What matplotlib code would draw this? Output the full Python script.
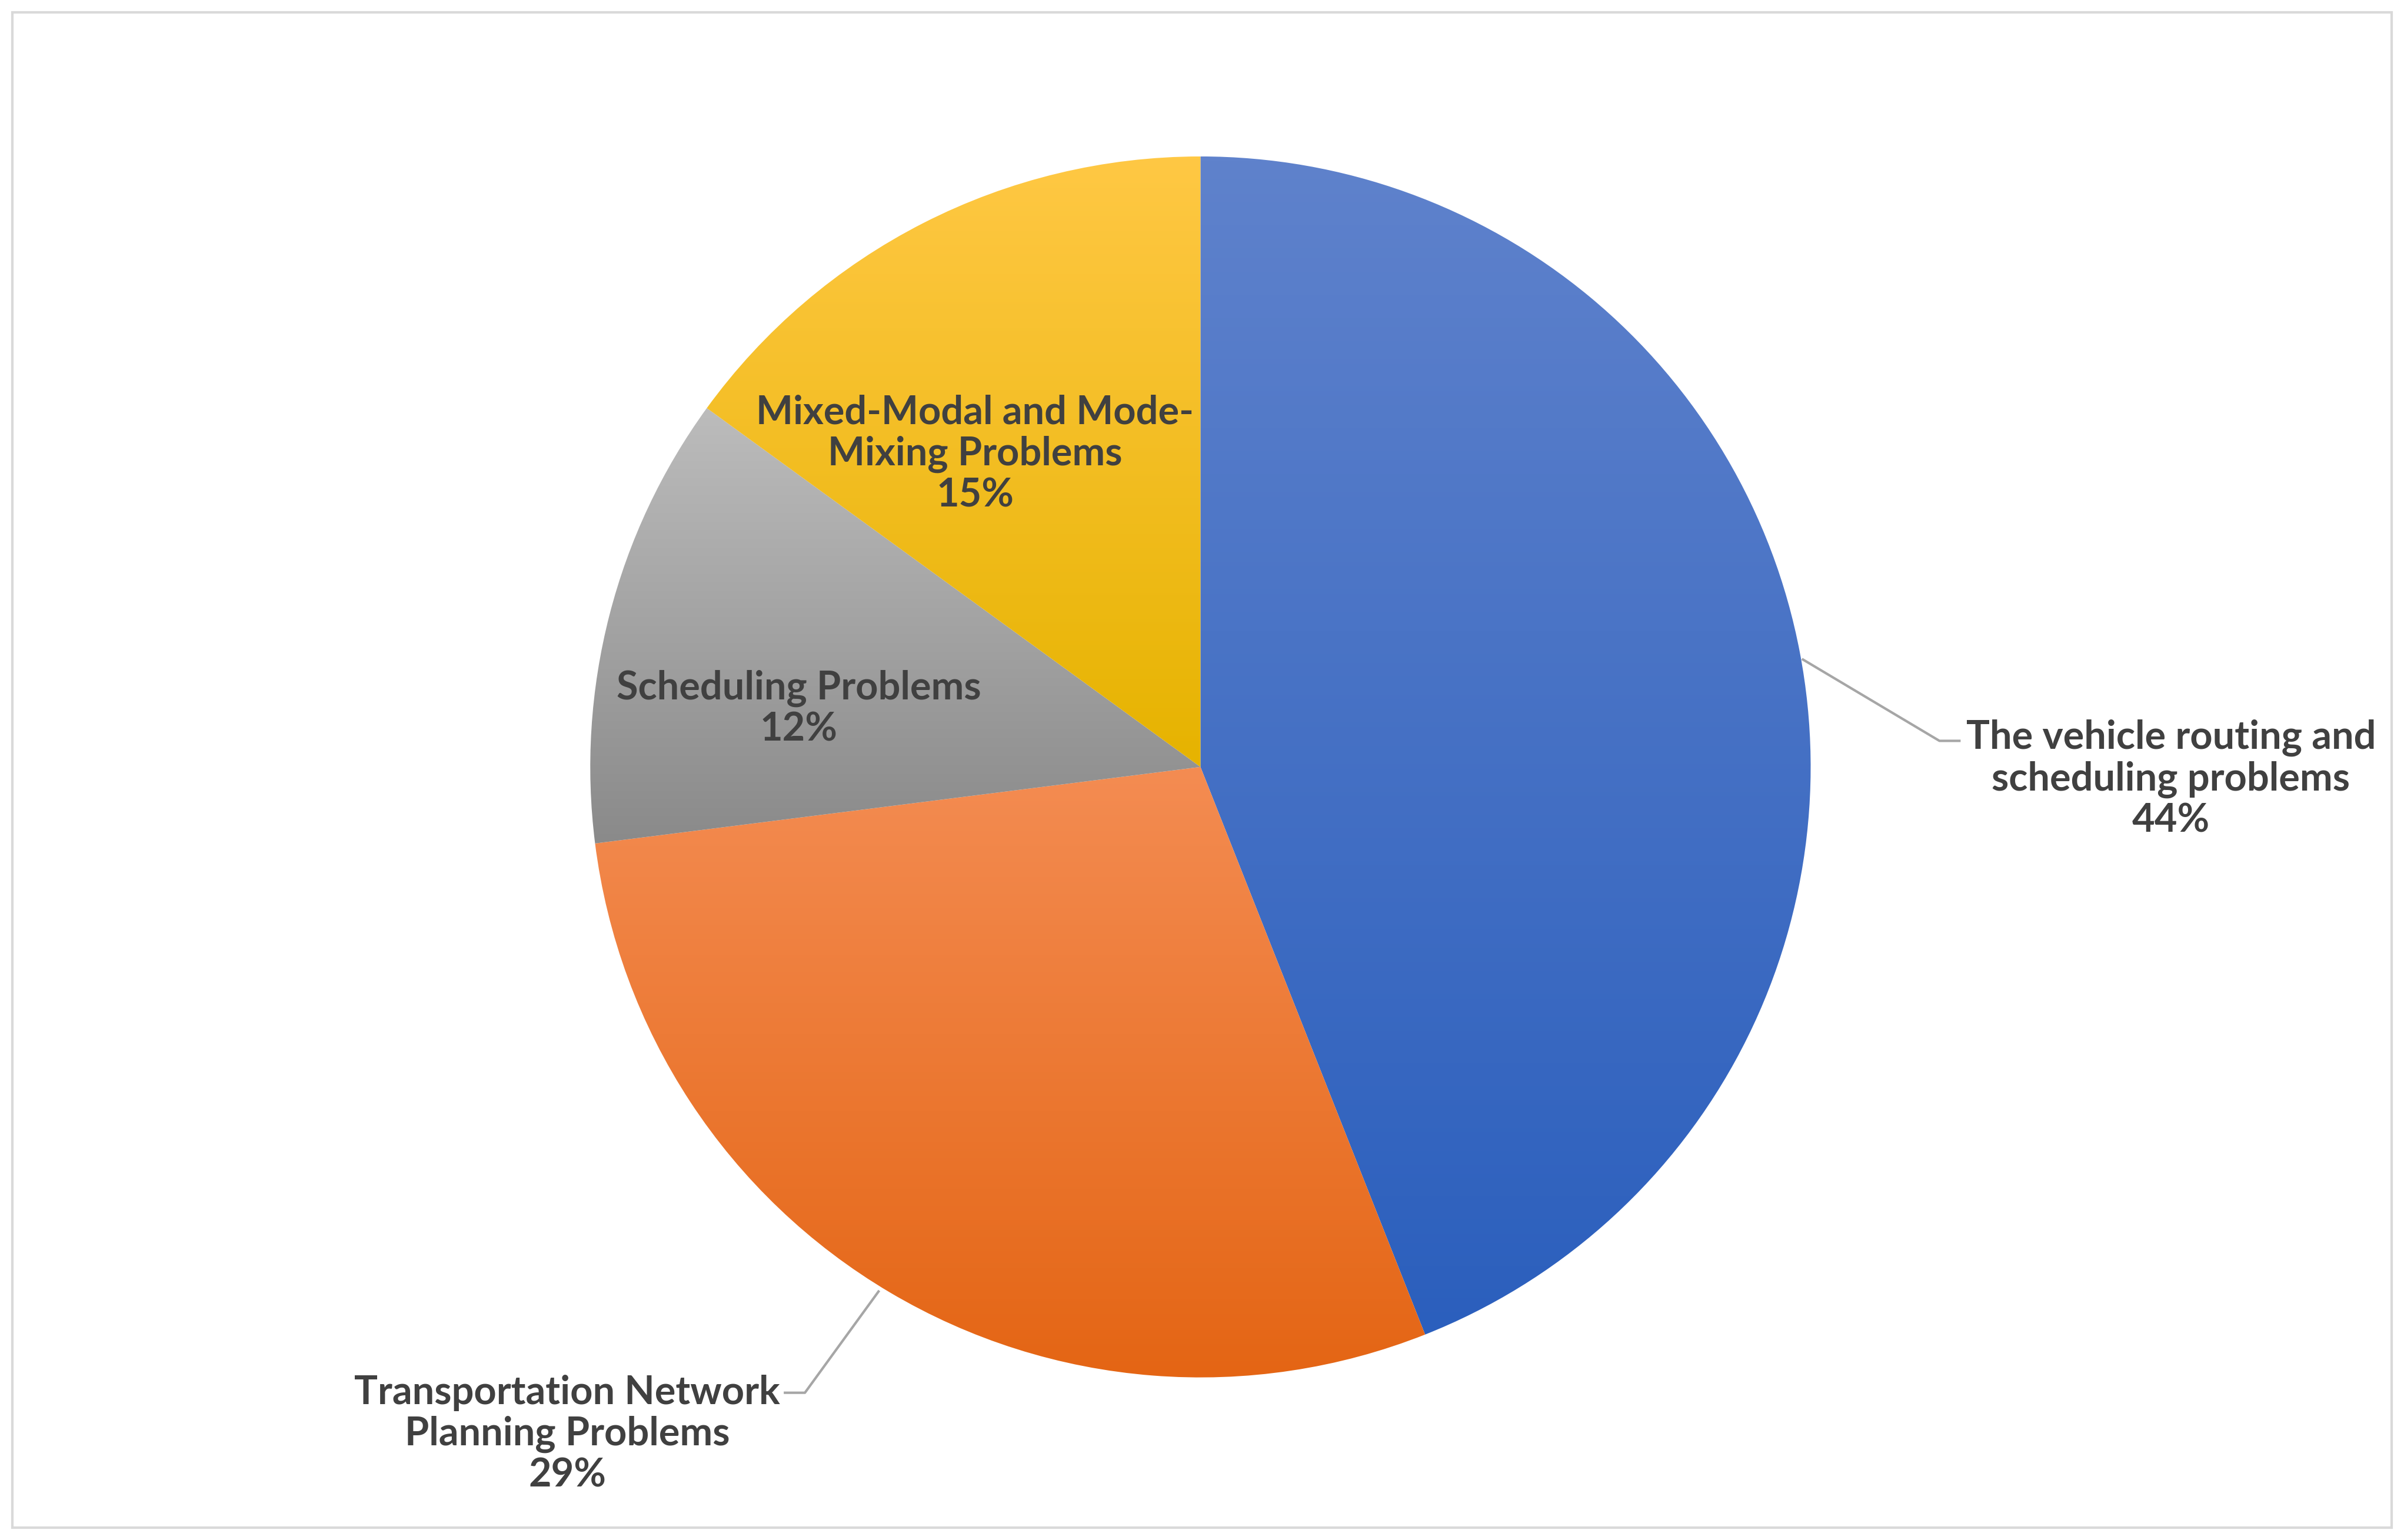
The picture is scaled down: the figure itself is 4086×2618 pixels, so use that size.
import matplotlib
matplotlib.use("Agg")
import matplotlib.pyplot as plt
import numpy as np
from matplotlib.colors import LinearSegmentedColormap
from matplotlib.patches import Rectangle

labels = ["The vehicle routing and\nscheduling problems", "Transportation Network\nPlanning Problems",
          "Scheduling Problems", "Mixed-Modal and Mode-\nMixing Problems"]
values = [44, 29, 12, 15]
top_colors = ["#5f82cc", "#f48c52", "#bcbcbc", "#ffc844"]
bot_colors = ["#2b5fbd", "#e46514", "#8a8a8a", "#e6b300"]

W, H = 1568, 1004
fig = plt.figure(figsize=(20.43, 13.09), dpi=200)
ax = fig.add_axes([0, 0, 1, 1])
ax.set_xlim(0, W); ax.set_ylim(0, H); ax.axis("off")
ax.add_patch(Rectangle((8, 8), W - 16, H - 16, fill=False, ec="#d9d9d9", lw=1.5))

cx, cy, R = 783, H - 500, 398
wedges, _ = ax.pie(values, center=(cx, cy), radius=R, startangle=90, counterclock=False,
                   colors=bot_colors, wedgeprops=dict(ec="white", lw=1), frame=True)
ax.set_xlim(0, W); ax.set_ylim(0, H); ax.axis("off"); ax.set_aspect("auto")
for w, t, b in zip(wedges, top_colors, bot_colors):
    ext = w.get_path().get_extents()
    cmap = LinearSegmentedColormap.from_list("g", [b, t])
    grad = np.linspace(0, 1, 256).reshape(-1, 1)
    im = ax.imshow(grad, cmap=cmap, origin="lower", aspect="auto",
                   extent=[ext.x0, ext.x1, ext.y0, ext.y1], zorder=2)
    im.set_clip_path(w)
ax.set_xlim(0, W); ax.set_ylim(0, H)

fs = 24
kw = dict(fontsize=fs, fontweight="bold", color="#404040", ha="center", va="center",
          family=["Lato", "DejaVu Sans"], linespacing=1.15, zorder=5)
ax.text(1416, H - 508, labels[0] + "\n44%", **kw)
ax.text(370, H - 935, labels[1] + "\n29%", **kw)
ax.text(521, H - 462, labels[2] + "\n12%", **kw)
ax.text(636, H - 296, labels[3] + "\n15%", **kw)
ax.plot([1176, 1265, 1278], [H - 430, H - 483, H - 483], color="#a6a6a6", lw=1.5, zorder=4)
ax.plot([573, 525, 512], [H - 842, H - 908, H - 908], color="#a6a6a6", lw=1.5, zorder=4)

fig.savefig("out.png", dpi=200, facecolor="white")
